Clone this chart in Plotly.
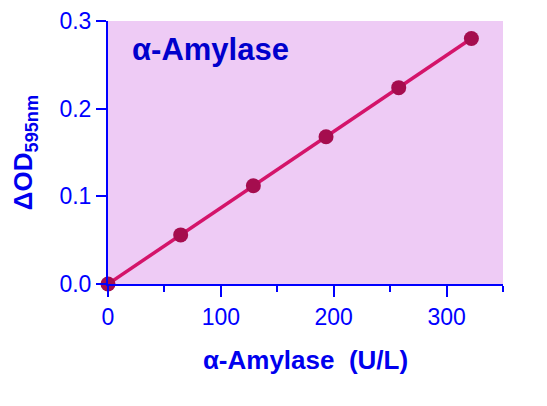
import plotly.graph_objects as go

activity = [0, 64.4, 128.8, 193.2, 257.6, 322]
delta_od = [0.0, 0.056, 0.112, 0.168, 0.224, 0.280]
x_ticks = [0, 100, 200, 300]
y_ticks = [0.0, 0.1, 0.2, 0.3]
y_tick_text = ["0.0", "0.1", "0.2", "0.3"]

blue = "#0000FF"
fig = go.Figure()
fig.add_trace(go.Scatter(
    x=activity, y=delta_od, mode="lines+markers",
    line=dict(color="#D4146A", width=3.5),
    marker=dict(color="#A50D4E", size=15),
    cliponaxis=False, showlegend=False,
))
fig.add_annotation(
    x=0.055, y=0.89, xref="paper", yref="paper", xanchor="left", yanchor="middle",
    text="<b>α-Amylase</b>", showarrow=False,
    font=dict(family="Liberation Sans, Arial", size=31, color="#0000CC"),
)
fig.update_layout(
    width=539, height=398,
    margin=dict(l=100, r=44, t=13, b=122, autoexpand=False),
    paper_bgcolor="white", plot_bgcolor="#EECBF5",
    font=dict(family="Liberation Sans, Arial", color=blue),
    xaxis=dict(
        range=[0, 350], tickvals=x_ticks, ticks="outside", ticklen=11, tickwidth=2,
        tickcolor=blue, showline=True, linecolor=blue, linewidth=2, showgrid=False,
        zeroline=False, tickfont=dict(size=23, color=blue), automargin=False,
        minor=dict(dtick=50, tick0=0, ticks="outside", ticklen=6, tickwidth=2, tickcolor=blue, showgrid=False),
        title=dict(text="<b>α-Amylase&nbsp;&nbsp;(U/L)</b>", font=dict(size=26, color="#0000EE"), standoff=22),
    ),
    yaxis=dict(
        range=[0, 0.3], tickvals=y_ticks, ticktext=y_tick_text, ticks="outside", ticklen=10,
        tickwidth=2, tickcolor=blue, showline=True, linecolor=blue, linewidth=2,
        showgrid=False, zeroline=False, tickfont=dict(size=23, color=blue), automargin=False,
        title=dict(text="<b>ΔOD<sub>595nm</sub></b>", font=dict(size=26, color="#0000EE"), standoff=19),
    ),
)
fig.write_html("out.html")
